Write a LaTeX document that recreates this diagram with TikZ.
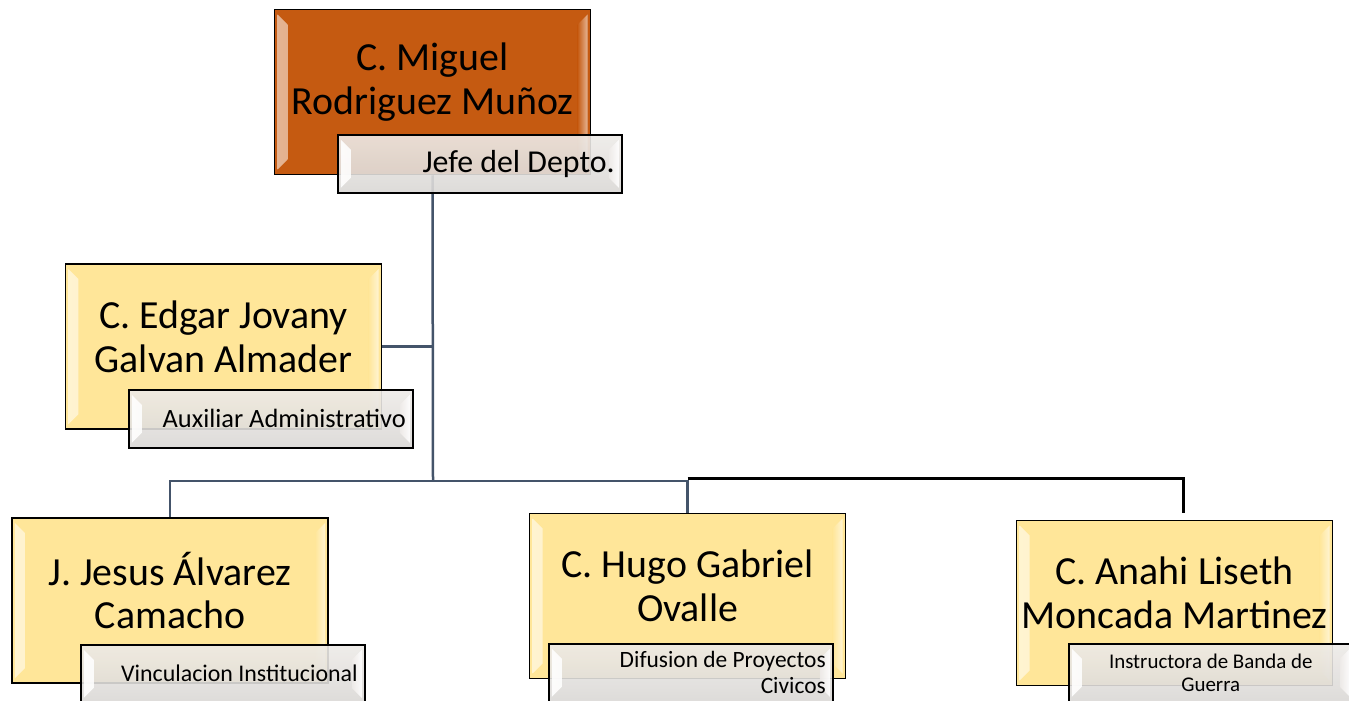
\documentclass[tikz,border=0pt]{standalone}
\usepackage{fontspec}
\setmainfont{Carlito}
\usetikzlibrary{positioning,backgrounds}
\definecolor{jefeorange}{HTML}{C55A11}
\definecolor{staffyellow}{HTML}{FFE699}
\definecolor{linkslate}{HTML}{44546A}
\definecolor{tagtop}{HTML}{EEEBE8}
\definecolor{tagbottom}{HTML}{DAD8D6}
\newcommand{\bevelstrips}[2]{%
	\shade[left color=#1, right color=#2]
	([shift={(3,5)}]path picture bounding box.north west) --
	([shift={(13,15)}]path picture bounding box.north west) --
	([shift={(13,-15)}]path picture bounding box.south west) --
	([shift={(3,-5)}]path picture bounding box.south west) -- cycle;
	\shade[left color=#2, right color=#1]
	([shift={(-3,5)}]path picture bounding box.north east) --
	([shift={(-13,15)}]path picture bounding box.north east) --
	([shift={(-13,-15)}]path picture bounding box.south east) --
	([shift={(-3,-5)}]path picture bounding box.south east) -- cycle;
}
\tikzset{
	person/.style={
		draw=black,
		line width=1.5bp,
		fill=#1,
		minimum width=316bp,
		minimum height=165bp,
		inner sep=0pt,
		path picture={\bevelstrips{#1!45!white}{#1}},
	},
	name text/.style={
		font=\fontsize{40}{44}\selectfont,
		align=center,
		yshift=10bp,
	},
	tag/.style={
		draw=black,
		line width=1.5bp,
		top color=tagtop,
		bottom color=tagbottom,
		fill opacity=.9,
		text opacity=1,
		minimum width=284bp,
		minimum height=58bp,
		inner sep=0pt,
		anchor=north west,
		text width=270bp,
		align=flush right,
		path picture={\bevelstrips{white}{tagtop}},
	},
	link/.style={draw=linkslate, line width=2.5bp},
	bandlink/.style={draw=black, line width=3bp},
}
\begin{document}
\begin{tikzpicture}[x=1bp,y=-1bp]
\path[use as bounding box] (0,0) rectangle (1349,700);

\node[person=jefeorange, label={[name text]center:{C. Miguel\\Rodriguez Muñoz}}] (miguel) at (432.5,92) {};
\node[tag, font=\fontsize{32}{34}\selectfont] (jefe) at (337,134) {Jefe del Depto.};

\node[person=staffyellow, label={[name text]center:{C. Edgar Jovany\\Galvan Almader}}] (edgar) at (223.5,346.5) {};
\node[tag, font=\fontsize{26.5}{30}\selectfont] (auxiliar) at (128,389) {Auxiliar Administrativo};

\node[person=staffyellow, label={[name text]center:{J. Jesus Álvarez\\Camacho}}] (jesus) at (170,600.5) {};
\node[tag, font=\fontsize{24}{28}\selectfont] (vinculacion) at (80,644) {Vinculacion Institucional};

\node[person=staffyellow, label={[name text]center:{C. Hugo Gabriel\\Ovalle}}] (hugo) at (687.5,596) {};
\node[tag, font=\fontsize{23.5}{26}\selectfont] (difusion) at (548,643) {Difusion de Proyectos\\Civicos};

\node[person=staffyellow, label={[name text]center:{C. Anahi Liseth\\Moncada Martinez}}] (anahi) at (1174.5,603) {};
\node[tag, align=flush center, font=\fontsize{21}{23}\selectfont] (banda) at (1068,643) {Instructora de Banda de\\Guerra};

\begin{scope}[on background layer]
\fill[white] (0,0) rectangle (1349,700);
\coordinate (bus) at (433,481);
\coordinate (bandtop) at (1183,513);
\draw[link] (miguel.south) -- (bus);
\draw[link] (edgar.east) -- (edgar.east -| bus);
\draw[link] (jesus.north) |- (bus) -| (hugo.north);
\draw[bandlink] ([yshift=3bp]hugo.north |- bus) -| (bandtop);
\end{scope}
\end{tikzpicture}
\end{document}
